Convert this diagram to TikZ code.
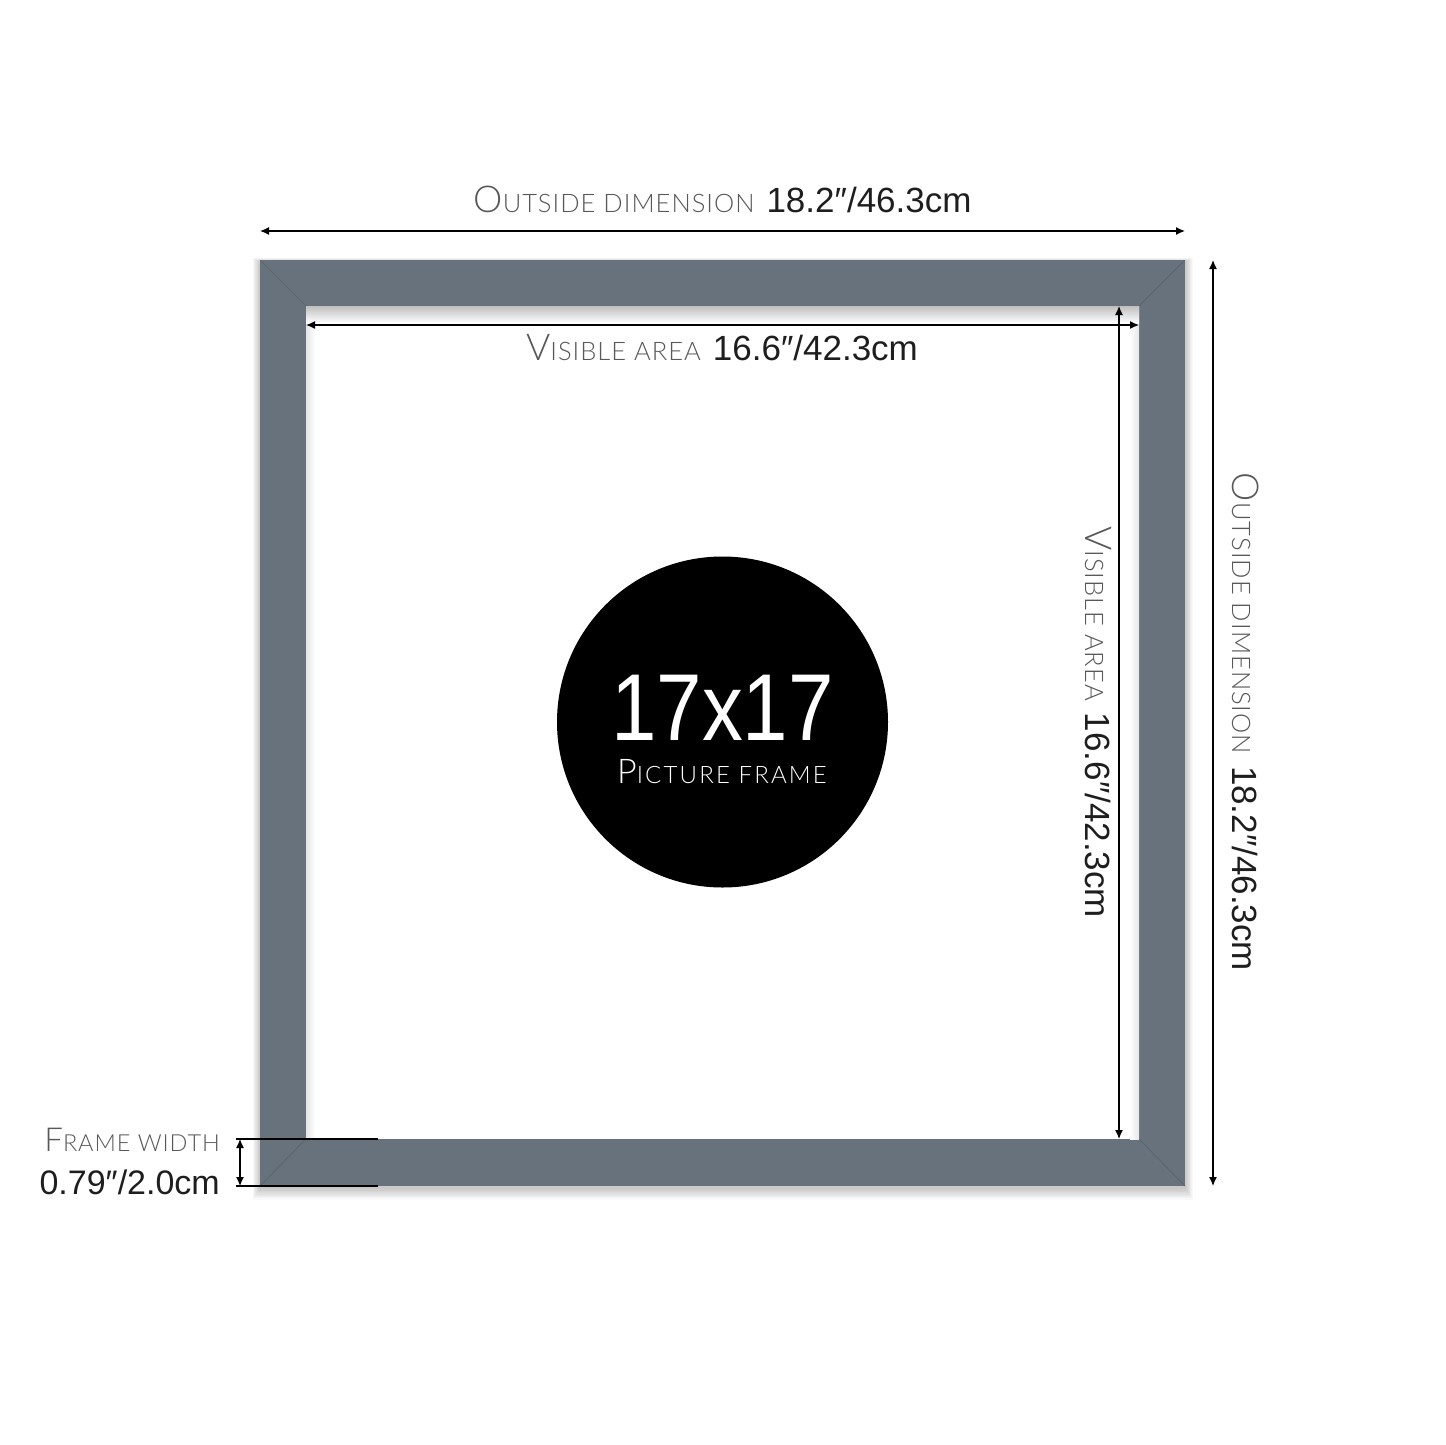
\documentclass[tikz,border=0pt]{standalone}
\usepackage{fontspec}
\setmainfont{Liberation Sans}
\newfontfamily\thinfont{Lato Light}[LetterSpace=4]
\newfontfamily\widethinfont{Lato Light}[LetterSpace=9]
\usetikzlibrary{arrows.meta}
\definecolor{framegray}{RGB}{104,114,124}
\definecolor{mitergray}{RGB}{90,99,108}
\definecolor{labelgray}{RGB}{88,88,88}
\definecolor{numblack}{RGB}{30,30,30}
% small caps made by hand: first letter, rest, two sizes
\newcommand{\smcap}[4]{{\thinfont\fontsize{#3}{#3}\selectfont #1\fontsize{#4}{#4}\selectfont #2}}
\newcommand{\dimnum}[2]{{\color{numblack}\fontsize{#2}{#2}\selectfont #1}}
\tikzset{
  dimline/.style={line width=1.3pt, {Latex[length=9pt,width=8pt]}-{Latex[length=9pt,width=8pt]}},
  dimtext/.style={inner sep=0pt, anchor=base},
  tickline/.style={line width=1.2pt}
}
\begin{document}
\begin{tikzpicture}[x=1pt,y=-1pt]
  \useasboundingbox (0,0) rectangle (1445,1445);
  \fill[white] (0,0) rectangle (1445,1445);

  % frame corners
  \coordinate (oTL) at (260,260);  \coordinate (oTR) at (1185,260);
  \coordinate (oBL) at (260,1186); \coordinate (oBR) at (1185,1186);
  \coordinate (iTL) at (306,306);  \coordinate (iTR) at (1139,306);
  \coordinate (iBL) at (306,1139); \coordinate (iBR) at (1139,1139);

  % soft shadow under the frame
  \foreach \r in {1,...,9}
    \fill[black,opacity=0.025] (260-\r*0.8,262-\r*0.5) rectangle (1185+\r*0.9,1188+\r*1.3);

  % the frame itself
  \fill[framegray] (oTL) rectangle (oBR);
  \fill[white] (iTL) rectangle (iBR);
  \draw[mitergray,line width=0.7pt] (oTL) -- (iTL);
  \draw[mitergray,line width=0.7pt] (oTR) -- (iTR);
  \draw[mitergray,line width=0.7pt] (oBL) -- (iBL);
  \draw[mitergray,line width=0.7pt] (oBR) -- (iBR);

  % inner shadow
  \shade[left color=black!10, right color=white] (306,306) rectangle (315,1139);
  \shade[right color=black!10, left color=white] (1130,306) rectangle (1139,1139);
  \shade[top color=black!25, bottom color=white] (306,306) rectangle (1139,323);

  % badge in the middle
  \node[circle, fill=black, minimum size=331pt, inner sep=0pt] (badge) at (722.5,722) {};
  \node[dimtext, text=white, xscale=0.86] (size) at (722.5,740)
    {\fontsize{95}{80}\selectfont 17x17};
  \node[dimtext, text=white] (kind) at (722,783)
    {{\widethinfont\fontsize{34}{30}\selectfont P\fontsize{24}{24}\selectfont ICTURE FRAME}};

  % dimension arrows
  \coordinate (topL) at (260,231);  \coordinate (topR) at (1185,231);
  \coordinate (visL) at (306,325);  \coordinate (visR) at (1139,325);
  \coordinate (visT) at (1119,306); \coordinate (visB) at (1119,1139);
  \coordinate (outT) at (1213,260); \coordinate (outB) at (1213,1186);
  \coordinate (fwT) at (240,1139);  \coordinate (fwB) at (240,1186);
  \coordinate (tickT) at (236,1139); \coordinate (tickTe) at (378,1139);
  \coordinate (tickB) at (236,1186); \coordinate (tickBe) at (378,1186);

  \draw[dimline] (topL) -- (topR);
  \draw[dimline] (visL) -- (visR);
  \draw[dimline] (visT) -- (visB);
  \draw[dimline] (outT) -- (outB);
  \draw[tickline] (tickT) -- (tickTe);
  \draw[tickline] (tickB) -- (tickBe);
  \draw[dimline] (fwT) -- (fwB);

  % labels
  \node[dimtext] (outtop) at (722.5,212)
    {{\color{labelgray}\smcap{O}{UTSIDE DIMENSION}{37}{25.5}}\hspace{12pt}\dimnum{18.2″/46.3cm}{35}};
  \node[dimtext] (vistop) at (722,360)
    {{\color{labelgray}\smcap{V}{ISIBLE AREA}{37}{25.5}}\hspace{12pt}\dimnum{16.6″/42.3cm}{35}};
  \node[dimtext, rotate=-90] (visside) at (1085,722)
    {{\color{labelgray}\smcap{V}{ISIBLE AREA}{37}{25.5}}\hspace{12pt}\dimnum{16.6″/42.3cm}{35}};
  \node[dimtext, rotate=-90] (outside) at (1232,722)
    {{\color{labelgray}\smcap{O}{UTSIDE DIMENSION}{37}{25.5}}\hspace{12pt}\dimnum{18.2″/46.3cm}{35}};
  \node[dimtext, anchor=base east] (fwname) at (220,1151)
    {{\color{labelgray}\smcap{F}{RAME WIDTH}{33}{23.5}}};
  \node[dimtext, anchor=base east] (fwval) at (220,1194)
    {\dimnum{0.79″/2.0cm}{34}};
\end{tikzpicture}
\end{document}
